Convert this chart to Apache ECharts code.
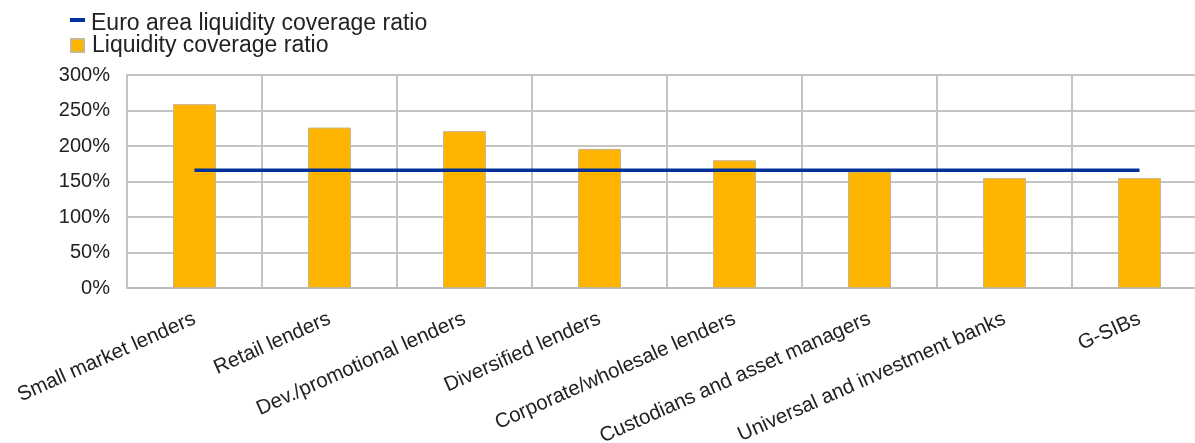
<!DOCTYPE html>
<html>
<head>
<meta charset="utf-8">
<script src="https://cdn.jsdelivr.net/npm/echarts@6/dist/echarts.min.js"></script>
<style>
html,body{margin:0;padding:0;background:#fff;}
#chart{width:1195px;height:443px;}
</style>
</head>
<body>
<div id="chart"></div>
<script>
const categories = ['Small market lenders','Retail lenders','Dev./promotional lenders','Diversified lenders','Corporate/wholesale lenders','Custodians and asset managers','Universal and investment banks','G-SIBs'];
const lcrValues = [259, 226, 221, 196, 180, 164, 155, 155];
const euroAreaLcr = [166, 166, 166, 166, 166, 166, 166, 166];
const seriesNames = ['Euro area liquidity coverage ratio', 'Liquidity coverage ratio'];

const FONT = '"Liberation Sans", Arial, sans-serif';
const chart = echarts.init(document.getElementById('chart'), null, {renderer:'canvas'});
chart.setOption({
  animation: false,
  backgroundColor: '#ffffff',
  legend: [
    {
      orient: 'vertical', left: 65, top: 7,
      itemWidth: 15, itemHeight: 13,
      icon: 'path://M0,1L15,1L15,5L0,5ZM0,0L0.01,0L0.01,0.01ZM0,13L0.01,13L0.01,13.01Z',
      textStyle: {fontFamily: FONT, fontSize: 23, color: '#222', padding: [0,0,0,1]},
      data: [seriesNames[0]]
    },
    {
      orient: 'vertical', left: 65, top: 29,
      itemWidth: 13, itemHeight: 13,
      icon: 'rect',
      textStyle: {fontFamily: FONT, fontSize: 23, color: '#222', padding: [0,0,0,3]},
      data: [seriesNames[1]]
    }
  ],
  grid: {left: 127, top: 75, right: -12, bottom: 155, containLabel: false, outerBoundsMode: 'none'},
  xAxis: {
    type: 'category',
    data: categories,
    boundaryGap: true,
    axisLine: {show: true, lineStyle: {color: '#bdbdbd', width: 2}},
    axisTick: {show: false},
    splitLine: {show: true, lineStyle: {color: '#c4c4c4', width: 2}},
    axisLabel: {
      interval: 0, rotate: 24, margin: 30,
      fontFamily: FONT, fontSize: 20.5, color: '#222'
    }
  },
  yAxis: {
    type: 'value',
    min: 0, max: 300, interval: 50,
    axisLine: {show: true, lineStyle: {color: '#c4c4c4', width: 2}},
    axisTick: {show: false},
    splitLine: {show: true, lineStyle: {color: '#c4c4c4', width: 2}},
    axisLabel: {formatter: '{value}%', margin: 17, fontFamily: FONT, fontSize: 20, color: '#222'}
  },
  series: [
    {
      name: seriesNames[1],
      type: 'bar',
      data: lcrValues,
      barWidth: 43,
      itemStyle: {color: '#FFB400', borderColor: '#c8b890', borderWidth: 1},
      z: 2
    },
    {
      name: seriesNames[0],
      type: 'line',
      data: euroAreaLcr,
      symbol: 'none',
      showSymbol: false,
      lineStyle: {color: '#003299', width: 3.5},
      itemStyle: {color: '#003299'},
      z: 3
    }
  ]
});
</script>
</body>
</html>
